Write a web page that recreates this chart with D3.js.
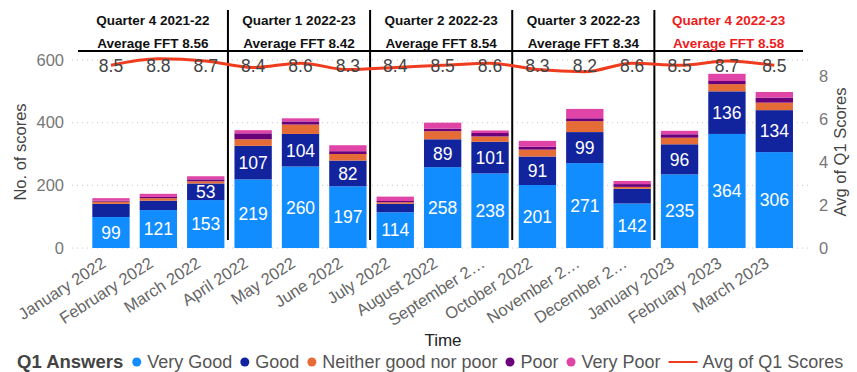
<!DOCTYPE html>
<html>
<head>
<meta charset="utf-8">
<script src="https://cdn.jsdelivr.net/npm/d3@7/dist/d3.min.js"></script>
<style>
  html, body { margin: 0; padding: 0; background: #fff; }
  svg { display: block; font-family: "Liberation Sans", Arial, sans-serif; }
</style>
</head>
<body>
<svg id="chart" width="857" height="372"></svg>
<script>
// Monthly Q1 answer counts, January 2022 – March 2023
const months = ["January 2022", "February 2022", "March 2022", "April 2022", "May 2022", "June 2022",
  "July 2022", "August 2022", "September 2022", "October 2022", "November 2022", "December 2022",
  "January 2023", "February 2023", "March 2023"];
const monthLabels = ["January 2022", "February 2022", "March 2022", "April 2022", "May 2022", "June 2022",
  "July 2022", "August 2022", "September 2…", "October 2022", "November 2…", "December 2…",
  "January 2023", "February 2023", "March 2023"];
const veryGood = [99, 121, 153, 219, 260, 197, 114, 258, 238, 201, 271, 142, 235, 364, 306];
const good     = [42, 30, 53, 107, 104, 82, 27, 89, 101, 91, 99, 47, 96, 136, 134];
const neither  = [7, 8, 7, 21, 30, 21, 5, 26, 17, 22, 35, 6, 21, 23, 24];
const poor     = [3, 4, 6, 19, 10, 9, 4, 8, 11, 9, 9, 9, 11, 10, 16];
const veryPoor = [8, 10, 10, 10, 10, 19, 14, 19, 8, 19, 30, 10, 11, 23, 18];
const avgScore = [8.5, 8.8, 8.7, 8.4, 8.6, 8.3, 8.4, 8.5, 8.6, 8.3, 8.2, 8.6, 8.5, 8.7, 8.5];

const seriesNames = ["Very Good", "Good", "Neither good nor poor", "Poor", "Very Poor"];
const seriesColors = ["#118DFF", "#12239E", "#E66C37", "#6B007B", "#E044A7"];

const quarters = ["Quarter 4 2021-22", "Quarter 1 2022-23", "Quarter 2 2022-23", "Quarter 3 2022-23", "Quarter 4 2022-23"];
const quarterFFT = [8.56, 8.42, 8.54, 8.34, 8.58];
const quarterColors = ["#111", "#111", "#111", "#111", "#EE1C1C"];

const countTicks = [0, 200, 400, 600];
const scoreTicks = [0, 2, 4, 6, 8];

const svg = d3.select("#chart");
const font = "'Liberation Sans', Arial, sans-serif";

const plotTop = 55, plotBottom = 248;
const x = d3.scaleBand().domain(months).range([87.3, 798]).paddingInner(0.212).paddingOuter(0.106);
const yL = d3.scaleLinear().domain([0, 616]).range([plotBottom, plotTop]);
const yR = d3.scaleLinear().domain([0, 8.98]).range([plotBottom, plotTop]);

// Gridlines for the count axis
svg.append("g").selectAll("line").data(countTicks).join("line")
  .attr("x1", 72).attr("x2", 812)
  .attr("y1", d => yL(d)).attr("y2", d => yL(d))
  .attr("stroke", "#c8c8c8").attr("stroke-width", 1).attr("stroke-dasharray", "1,4");

// Left axis
const leftAxis = svg.append("g").attr("transform", "translate(64,0)")
  .call(d3.axisLeft(yL).tickValues(countTicks).tickSize(0).tickPadding(0));
leftAxis.select(".domain").remove();
leftAxis.selectAll("text").attr("font-size", 16.5).attr("fill", "#777").attr("font-family", font);

// Right axis
const rightAxis = svg.append("g").attr("transform", "translate(819,0)")
  .call(d3.axisRight(yR).tickValues(scoreTicks).tickSize(0).tickPadding(0));
rightAxis.select(".domain").remove();
rightAxis.selectAll("text").attr("font-size", 16.5).attr("fill", "#777").attr("font-family", font);

// Axis titles
svg.append("text").attr("transform", "translate(26,152) rotate(-90)")
  .attr("text-anchor", "middle").attr("font-size", 16.5).attr("fill", "#444")
  .text("No. of scores");
svg.append("text").attr("transform", "translate(846,152) rotate(-90)")
  .attr("text-anchor", "middle").attr("font-size", 16.5).attr("fill", "#444")
  .text("Avg of Q1 Scores");

// Stacked bars
const rows = months.map((m, i) => ({
  month: m,
  "Very Good": veryGood[i], "Good": good[i], "Neither good nor poor": neither[i],
  "Poor": poor[i], "Very Poor": veryPoor[i]
}));
const stacked = d3.stack().keys(seriesNames)(rows);
const color = d3.scaleOrdinal().domain(seriesNames).range(seriesColors);

const barLayer = svg.append("g");
barLayer.selectAll("g").data(stacked).join("g")
  .attr("fill", d => color(d.key))
  .selectAll("rect").data(d => d).join("rect")
  .attr("x", d => x(d.data.month))
  .attr("width", x.bandwidth())
  .attr("y", d => yL(d[1]))
  .attr("height", d => yL(d[0]) - yL(d[1]));

// Value labels on the two largest series
const labelled = stacked.filter(s => s.key === "Very Good" || s.key === "Good");
svg.append("g").selectAll("g").data(labelled).join("g")
  .selectAll("text").data(d => d.filter(p => (p[1] - p[0]) >= 50)).join("text")
  .attr("x", d => x(d.data.month) + x.bandwidth() / 2)
  .attr("y", d => (yL(d[0]) + yL(d[1])) / 2)
  .attr("dy", "0.36em")
  .attr("text-anchor", "middle").attr("font-size", 17.5).attr("fill", "#fff")
  .text(d => d[1] - d[0]);

// Quarter separators
const step = x.step();
const gap = step * x.paddingInner();
const sepX = [3, 6, 9, 12].map(i => x(months[i]) - gap / 2 - 1.5);
svg.append("g").selectAll("line").data(sepX).join("line")
  .attr("x1", d => d).attr("x2", d => d).attr("y1", 10).attr("y2", 240)
  .attr("stroke", "#000").attr("stroke-width", 2);

// Header underline
const headStart = 78, headEnd = 803;
svg.append("line").attr("x1", headStart).attr("x2", headEnd).attr("y1", 51).attr("y2", 51)
  .attr("stroke", "#000").attr("stroke-width", 2);

// Quarter headers
const bounds = [headStart, ...sepX, headEnd];
const head = svg.append("g").attr("font-weight", "bold").attr("font-size", 13.5).attr("text-anchor", "middle");
quarters.forEach((q, i) => {
  const cx = (bounds[i] + bounds[i + 1]) / 2;
  head.append("text").attr("x", cx).attr("y", 25).attr("fill", quarterColors[i]).text(q);
  head.append("text").attr("x", cx).attr("y", 48).attr("fill", quarterColors[i])
    .text("Average FFT " + quarterFFT[i].toFixed(2));
});

// Average score line
const line = d3.line()
  .x((d, i) => x(months[i]) + x.bandwidth() / 2)
  .y(d => yR(d))
  .curve(d3.curveMonotoneX);
svg.append("path").datum(avgScore).attr("d", line)
  .attr("fill", "none").attr("stroke", "#F03C1E").attr("stroke-width", 3);

svg.append("g").selectAll("text").data(avgScore).join("text")
  .attr("x", (d, i) => x(months[i]) + x.bandwidth() / 2)
  .attr("y", 66).attr("dy", "0.36em")
  .attr("text-anchor", "middle").attr("font-size", 17.5).attr("fill", "#444")
  .text(d => d.toFixed(1));

// X axis labels
svg.append("g").selectAll("text").data(months).join("text")
  .attr("transform", d => `translate(${x(d) + x.bandwidth() / 2 - 4},266) rotate(-33)`)
  .attr("text-anchor", "end").attr("font-size", 16.5).attr("fill", "#666")
  .text((d, i) => monthLabels[i]);

svg.append("text").attr("x", 443).attr("y", 346).attr("text-anchor", "middle")
  .attr("font-size", 17).attr("fill", "#222").text("Time");

// Legend
const legend = svg.append("g").attr("transform", "translate(17,362)");
let lx = 0;
const title = legend.append("text").attr("x", lx).attr("dy", "0.35em")
  .attr("font-size", 18.5).attr("font-weight", "bold").attr("fill", "#444").text("Q1 Answers");
lx += title.node().getComputedTextLength() + 9;
seriesNames.forEach((name, i) => {
  legend.append("circle").attr("cx", lx + 4.5).attr("cy", 0).attr("r", 4.5).attr("fill", seriesColors[i]);
  const t = legend.append("text").attr("x", lx + 15).attr("dy", "0.35em")
    .attr("font-size", 18).attr("fill", "#555").text(name);
  lx += 15 + t.node().getComputedTextLength() + 8;
});
legend.append("line").attr("x1", lx).attr("x2", lx + 29).attr("y1", 0).attr("y2", 0)
  .attr("stroke", "#F03C1E").attr("stroke-width", 2);
legend.append("text").attr("x", lx + 34).attr("dy", "0.35em")
  .attr("font-size", 18).attr("fill", "#555").text("Avg of Q1 Scores");
</script>
</body>
</html>
